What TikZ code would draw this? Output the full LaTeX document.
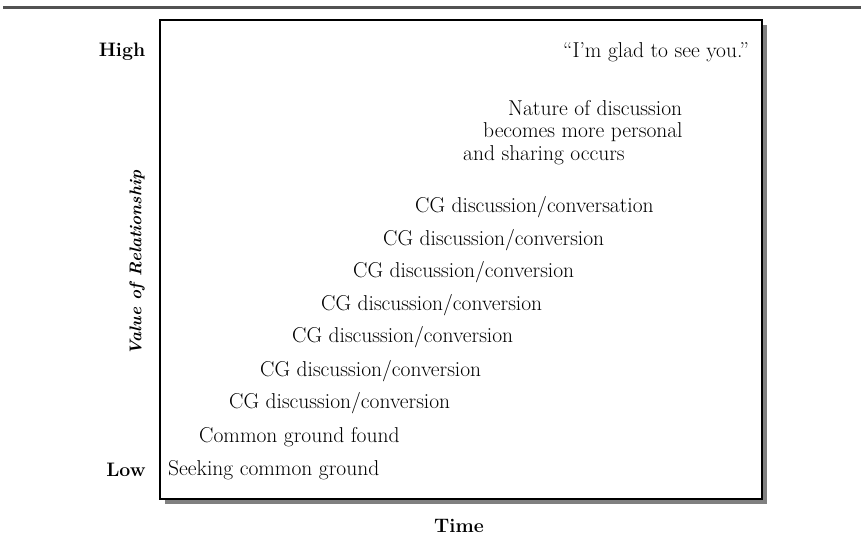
\documentclass[tikz,border=0pt]{standalone}
\usepackage{tikz}

\begin{document}
\begin{tikzpicture}[x=1pt,y=-1pt,every node/.style={inner sep=0pt,font=\fontsize{21.5}{25}\selectfont},
  axis/.style={font=\fontsize{19.5}{23}\selectfont\bfseries},
  stage/.style={anchor=west}]
\useasboundingbox (0,0) rectangle (862,555);
\draw[line width=2.2pt,black!68] (3,7.5) -- (861,7.5);
% frame with shadow
\fill[black!50] (165,25) rectangle (767,504);
\draw[line width=1.5pt,fill=white] (160,20) rectangle (762,499);
\node[axis] (high) at (122,52) {High};
\node[axis] (low) at (126,470) {Low};
\node[axis] (time) at (459,526) {Time};
\node[font=\fontsize{17}{20}\selectfont\bfseries\itshape,rotate=90] (value) at (137,263) {Value of Relationship};
% staircase of stages
\node[stage] (seek) at (168,470) {Seeking common ground};
\node[stage] (found) at (199,437) {Common ground found};
\node[stage] (cg1) at (229,403) {CG discussion/conversion};
\node[stage] (cg2) at (260,371) {CG discussion/conversion};
\node[stage] (cg3) at (292,337) {CG discussion/conversion};
\node[stage] (cg4) at (321,305) {CG discussion/conversion};
\node[stage] (cg5) at (353,272) {CG discussion/conversion};
\node[stage] (cg6) at (383,240) {CG discussion/conversion};
\node[stage] (cg7) at (415,207) {CG discussion/conversation};
\node[stage] (share3) at (463,155) {and sharing occurs};
\node[stage] (share2) at (483,132) {becomes more personal};
\node[stage] (share1) at (508,108) {Nature of discussion};
\node[stage] (glad) at (563,52) {``I'm glad to see you.''};
\end{tikzpicture}
\end{document}
